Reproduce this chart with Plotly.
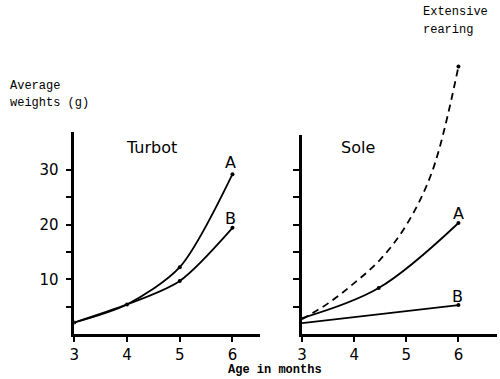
import plotly.graph_objects as go

# ---- data ----
age_ticks = [3, 4, 5, 6]
weight_ticks = [5, 10, 15, 20, 25, 30]
weight_ticktext = ["", "10", "", "20", "", "30"]

turbot_age = [3, 4, 5, 6]
turbot_A = [2.1, 5.4, 12.2, 29.2]
turbot_B = [2.1, 5.4, 9.7, 19.4]

sole_A_age = [3, 4.47, 6]
sole_A = [2.9, 8.4, 20.3]

sole_B_age = [3, 6]
sole_B = [2.0, 5.3]

ext_age = [3, 3.5, 4, 4.5, 5, 5.5, 6]
ext_weight = [2.7, 5.6, 9.3, 13.6, 19.9, 29.8, 48.9]

W, H = 500, 379
def px(x): return x / W
def py(y): return 1 - y / H

fig = go.Figure()

LINE = dict(color="black", width=1.8)
MK = dict(color="black", size=4)
SPL = dict(shape="spline", smoothing=0.8)

# Turbot
fig.add_trace(go.Scatter(x=turbot_age, y=turbot_A, mode="lines", line=dict(**LINE, **SPL),
                         xaxis="x", yaxis="y"))
fig.add_trace(go.Scatter(x=turbot_age, y=turbot_B, mode="lines", line=dict(**LINE, **SPL),
                         xaxis="x", yaxis="y"))
fig.add_trace(go.Scatter(x=turbot_age, y=turbot_A, mode="markers", marker=MK, xaxis="x", yaxis="y"))
fig.add_trace(go.Scatter(x=turbot_age[2:], y=turbot_B[2:], mode="markers", marker=MK, xaxis="x", yaxis="y"))

# Sole
fig.add_trace(go.Scatter(x=sole_A_age, y=sole_A, mode="lines", line=dict(**LINE, shape="spline", smoothing=1),
                         xaxis="x2", yaxis="y2"))
fig.add_trace(go.Scatter(x=sole_A_age[1:], y=sole_A[1:], mode="markers", marker=MK, xaxis="x2", yaxis="y2"))
fig.add_trace(go.Scatter(x=sole_B_age, y=sole_B, mode="lines", line=dict(**LINE),
                         xaxis="x2", yaxis="y2"))
fig.add_trace(go.Scatter(x=sole_B_age[1:], y=sole_B[1:], mode="markers", marker=MK, xaxis="x2", yaxis="y2"))

# Extensive rearing (dashed), on an invisible taller axis with the same scale
fig.add_trace(go.Scatter(x=ext_age, y=ext_weight, mode="lines",
                         line=dict(color="black", width=1.8, dash="7px,5px", shape="spline", smoothing=1),
                         xaxis="x3", yaxis="y3"))
fig.add_trace(go.Scatter(x=ext_age[-1:], y=ext_weight[-1:], mode="markers", marker=MK,
                         xaxis="x3", yaxis="y3", cliponaxis=False))

ybot = py(334)
TICKFONT = dict(family="DejaVu Sans", size=15, color="black")

xcommon = dict(showgrid=False, zeroline=False, showline=True, linecolor="black", linewidth=2.5,
               ticks="outside", ticklen=5, tickwidth=2, tickcolor="black",
               tickvals=age_ticks, ticktext=[str(a) for a in age_ticks], tickfont=TICKFONT,
               ticklabelstandoff=0)
ycommon = dict(showgrid=False, zeroline=False, showline=True, linecolor="black", linewidth=2.5,
               ticks="outside", ticklen=6, tickwidth=2, tickcolor="black", tickvals=weight_ticks)

fig.update_layout(
    width=W, height=H,
    margin=dict(l=0, r=0, t=0, b=0),
    paper_bgcolor="white", plot_bgcolor="rgba(0,0,0,0)",
    showlegend=False,
    xaxis=dict(**xcommon, domain=[px(70), px(258)], range=[3, 6.53], anchor="y"),
    yaxis=dict(**ycommon, domain=[ybot, py(132)], range=[0, 36.9], anchor="x",
               ticktext=weight_ticktext, tickfont=TICKFONT, ticklabelstandoff=4),
    xaxis2=dict(**xcommon, domain=[px(300), px(497)], range=[3, 6.74], anchor="y2"),
    yaxis2=dict(**ycommon, domain=[ybot, py(135)], range=[0, 36.4], anchor="x2",
                showticklabels=False),
    xaxis3=dict(domain=[px(300), px(497)], range=[3, 6.74], visible=False, anchor="y3"),
    yaxis3=dict(domain=[ybot, py(334 - 50 * 5.47)], range=[0, 50], visible=False, anchor="x3"),
)

MONO = dict(family="Liberation Mono", size=12, color="black")
SANS = dict(family="DejaVu Sans", size=16, color="black")

def label(text, x, y, font, xanchor="left", yanchor="middle"):
    fig.add_annotation(text=text, x=px(x), y=py(y), xref="paper", yref="paper",
                       showarrow=False, font=font, xanchor=xanchor, yanchor=yanchor, align="left")

label("Average", 3, 86, MONO)
label("weights (g)", 3, 103, MONO)
label("Extensive", 420, 12, MONO)
label("rearing", 420, 30, MONO)
label("<b>Age in months</b>", 273, 370, MONO, xanchor="center")
label("Turbot", 148, 148, SANS, xanchor="center")
label("Sole", 357, 147, SANS, xanchor="center")
label("A", 228, 163, SANS, xanchor="center")
label("B", 228, 218, SANS, xanchor="center")
label("A", 458, 213, SANS, xanchor="center")
label("B", 457, 296, SANS, xanchor="center")

fig.write_html("out.html", config={"displayModeBar": False},
               post_script="document.body.style.margin='0';")
